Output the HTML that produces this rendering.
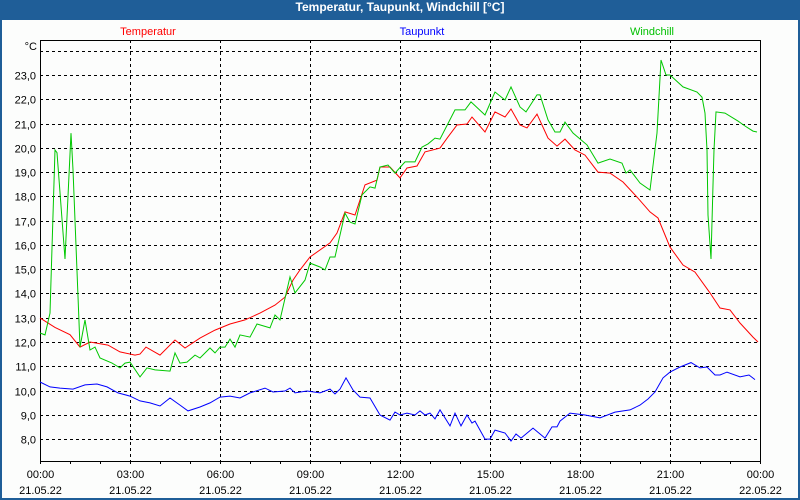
<!DOCTYPE html>
<html><head><meta charset="utf-8"><style>
html,body{margin:0;padding:0;background:#1f5e98;}
#win{position:relative;width:800px;height:500px;overflow:hidden;background:#1f5e98;}
#title{position:absolute;left:0;top:0;width:800px;height:20px;line-height:20px;text-align:center;color:#fff;font:bold 12px "Liberation Sans",sans-serif;}
svg{position:absolute;left:2px;top:20px;}
text{font-family:"Liberation Sans",sans-serif;font-size:11px;}
</style></head><body>
<div id="win">
<div id="title">Temperatur, Taupunkt, Windchill [°C]</div>
<svg id="chart" width="796" height="478" viewBox="2 20 796 478"></svg>
</div>
<script>
const yTicks=[8,9,10,11,12,13,14,15,16,17,18,19,20,21,22,23,24];
const xTickHours=[0,3,6,9,12,15,18,21,24];
const xTimeLabels=["00:00","03:00","06:00","09:00","12:00","15:00","18:00","21:00","00:00"];
const xDateLabels=["21.05.22","21.05.22","21.05.22","21.05.22","21.05.22","21.05.22","21.05.22","21.05.22","22.05.22"];
const seriesNames=["Temperatur","Taupunkt","Windchill"];
const tempMin=[0,30,60,80,100,136,160,190,200,212,240,270,290,320,350,380,410,440,470,490,506,520,540,580,594,610,630,650,674,680,700,720,734,754,770,800,816,834,854,864,890,910,930,942,960,974,994,1016,1034,1050,1070,1090,1116,1140,1166,1194,1220,1236,1260,1286,1310,1340,1360,1380,1400,1426,1436];
const tempVal=[12.99,12.6,12.3,11.79,12.0,11.87,11.59,11.46,11.5,11.79,11.46,12.08,11.75,12.16,12.49,12.74,12.91,13.19,13.52,13.85,14.55,14.97,15.5,16.08,16.49,17.36,17.23,18.47,18.67,19.21,19.21,18.76,19.17,19.25,19.83,19.99,20.45,20.94,20.98,21.27,20.65,21.48,21.27,21.6,20.94,20.82,21.39,20.4,20.07,20.36,19.91,19.7,19.0,18.96,18.59,17.97,17.36,17.11,15.91,15.17,14.88,14.02,13.4,13.32,12.78,12.2,12.0];
const windMin=[0,10,20,30,34,50,62,66,80,90,100,110,120,144,160,170,180,200,214,230,260,270,280,294,310,320,340,350,360,370,380,390,400,420,434,460,470,480,500,510,530,540,560,570,580,590,610,620,630,644,660,670,680,696,710,730,750,764,776,790,800,830,850,862,890,910,930,942,960,972,994,1000,1016,1030,1040,1050,1066,1094,1116,1140,1164,1172,1180,1200,1220,1234,1242,1252,1260,1286,1314,1324,1330,1334,1336,1342,1346,1348,1352,1370,1396,1410,1426,1434];
const windVal=[12.37,12.29,13.19,19.91,19.8,15.42,20.6,19.1,11.79,12.91,11.67,11.79,11.34,11.13,10.93,11.13,11.17,10.56,10.93,10.85,10.8,11.55,11.13,11.17,11.46,11.34,11.75,11.55,11.79,11.79,12.12,11.79,12.29,12.2,12.74,12.58,13.11,12.91,14.68,14.02,14.55,15.25,15.09,14.97,15.5,15.5,17.31,16.94,16.86,18.06,18.39,18.34,19.21,19.29,18.96,19.42,19.42,20.03,20.16,20.4,20.36,21.56,21.56,21.89,21.35,22.3,21.97,22.51,21.68,21.48,22.18,22.18,21.15,20.65,20.65,21.06,20.61,20.12,19.37,19.54,19.37,18.96,19.09,18.55,18.26,20.61,23.62,23.0,23.0,22.51,22.3,22.09,21.43,19.91,17.23,15.42,18.47,19.91,21.48,21.43,21.1,20.9,20.69,20.65];
const dewMin=[0,20,40,66,90,114,134,156,180,200,220,240,260,280,296,320,340,360,380,400,420,450,466,490,500,510,534,560,580,590,600,612,626,640,660,680,700,710,720,734,750,760,770,780,790,800,820,830,842,854,864,870,890,900,910,930,942,952,962,986,1010,1024,1034,1040,1060,1090,1120,1150,1180,1200,1216,1230,1246,1260,1280,1302,1320,1334,1350,1360,1374,1400,1418,1430];
const dewVal=[10.35,10.15,10.1,10.06,10.23,10.27,10.15,9.9,9.77,9.57,9.49,9.36,9.69,9.4,9.16,9.32,9.49,9.73,9.77,9.69,9.9,10.1,9.94,9.98,10.1,9.9,9.98,9.9,10.06,9.86,10.06,10.52,10.02,9.73,9.69,8.99,8.78,9.11,8.99,9.07,8.99,9.16,8.99,9.07,8.83,9.2,8.54,9.07,8.54,8.99,8.66,8.74,8.0,8.0,8.37,8.25,7.92,8.21,8.04,8.45,8.04,8.5,8.5,8.74,9.07,8.99,8.87,9.11,9.2,9.4,9.65,9.94,10.52,10.76,10.97,11.15,10.93,10.97,10.64,10.64,10.76,10.56,10.64,10.45];

const L=40,R=760,T=40,B=461;
const X=m=>L+m*(R-L)/1440;
const Y=v=>75+(23-v)*24.27;
const NS="http://www.w3.org/2000/svg";
const svg=document.getElementById('chart');
function mk(tag,attrs,parent){const e=document.createElementNS(NS,tag);for(const k in attrs)e.setAttribute(k,attrs[k]);(parent||svg).appendChild(e);return e;}

const bg=mk('rect',{x:2,y:20,width:796,height:478,fill:'#fcfdfc'});



yTicks.forEach(v=>{
  const y=Math.round(Y(v))+0.5;
  const g=mk('line',{x1:L,x2:R,y1:y,y2:y,stroke:'#000','stroke-dasharray':'3,3','stroke-width':1});
  
  
  if(v<24){
    const t=mk('text',{x:36,y:y+4,'text-anchor':'end',fill:'#000'});
    t.textContent=v.toFixed(1).replace('.',',');
    
    
  }
});
const unit=mk('text',{x:37,y:50,'text-anchor':'end',fill:'#000'});
unit.textContent='°C';



for(let h=0;h<=24;h++){
  const x=Math.round(X(h*60))+0.5;
  const tk=mk('line',{x1:x,x2:x,y1:B,y2:B+3,stroke:'#000'});
  
  
}
xTickHours.forEach((h,i)=>{
  const x=Math.round(X(h*60))+0.5;
  if(h>0&&h<24){
    const g=mk('line',{x1:x,x2:x,y1:T,y2:B,stroke:'#000','stroke-dasharray':'3,3'});
    
    
  }
  const t1=mk('text',{x:x,y:478,'text-anchor':'middle',fill:'#000'});
  t1.textContent=xTimeLabels[i];
  
  
  const t2=mk('text',{x:x,y:494,'text-anchor':'middle',fill:'#000'});
  t2.textContent=xDateLabels[i];
  
  
});

const frame=mk('rect',{x:L+0.5,y:T+0.5,width:R-L,height:B-T,fill:'none',stroke:'#000','stroke-width':1});



function line(ms,vs,color,name){
  const p=ms.map((m,i)=>X(m).toFixed(1)+','+Y(vs[i]).toFixed(1)).join(' ');
  const pl=mk('polyline',{points:p,fill:'none',stroke:color,'stroke-width':1});
  
  
}
line(dewMin,dewVal,'#0000ff','taupunkt-line');
line(tempMin,tempVal,'#ff0000','temperatur-line');
line(windMin,windVal,'#00c800','windchill-line');

const legX=[148,422,652],legC=['#ff0000','#0000ff','#00c000'];
seriesNames.forEach((n,i)=>{
  const t=mk('text',{x:legX[i],y:35,'text-anchor':'middle',fill:legC[i]});
  t.textContent=n;
  
  
});
</script>
</body></html>
